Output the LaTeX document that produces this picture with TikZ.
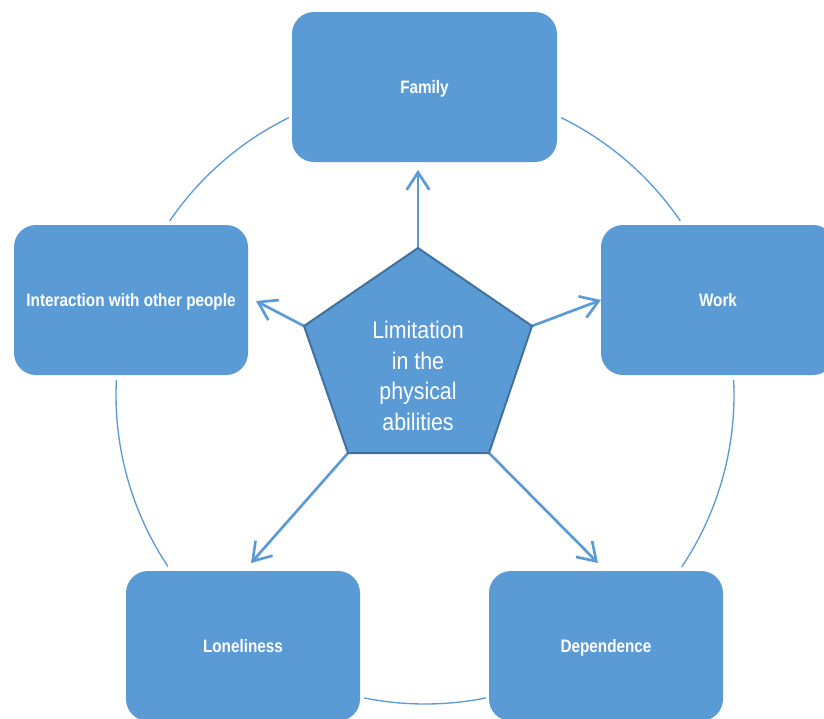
\documentclass[tikz,border=0pt]{standalone}
\usepackage{fontspec}
\setmainfont{Liberation Sans}
\newfontfamily\boxfont[FakeStretch=0.85]{Liberation Sans}
\newfontfamily\hubfont[FakeStretch=0.89]{Liberation Sans}
\usetikzlibrary{arrows.meta}
\definecolor{boxblue}{HTML}{5B9BD5}
\definecolor{edgeblue}{HTML}{41719C}
\begin{document}
\begin{tikzpicture}[x=0.75pt,y=-0.75pt,
  topic/.style={fill=boxblue, rounded corners=16.5pt, minimum width=175.5pt,
    minimum height=112.5pt, inner sep=0pt, text=white,
    text height=9.7pt, text depth=0pt,
    font=\boxfont\bfseries\fontsize{13.5}{16}\selectfont},
  ring/.style={draw=boxblue, line width=1pt},
  arr/.style={draw=boxblue, line width=2pt, -{Straight Barb[length=13pt,width=17pt]}},
  hub/.style={fill=boxblue, draw=edgeblue, line width=1.5pt, line join=miter},
  hubtext/.style={align=center, text=white, inner sep=0pt,
    font=\hubfont\fontsize{18}{23}\selectfont}]
\useasboundingbox (0,0) rectangle (824,718);
\clip (0,0) rectangle (824,718);

% ring of thin arcs linking the outer topics
\coordinate (c) at (425,395);
\draw[ring] (c) ++(116.15:231.75pt) arc[start angle=116.15, end angle=145.7, radius=231.75pt];
\draw[ring] (c) ++(34.3:231.75pt) arc[start angle=34.3, end angle=63.85, radius=231.75pt];
\draw[ring] (c) ++(177.2:231.75pt) arc[start angle=177.2, end angle=213.7, radius=231.75pt];
\draw[ring] (c) ++(-33.8:231.75pt) arc[start angle=-33.8, end angle=2.8, radius=231.75pt];
\draw[ring] (c) ++(258.65:231.75pt) arc[start angle=258.65, end angle=281.4, radius=231.75pt];

% outer topics
\node[topic, minimum width=198.75pt] (fam) at (424.5,87) {Family};
\node[topic] (work) at (718,300) {Work};
\node[topic] (inter) at (131,300) {Interaction with other people};
\node[topic] (lone) at (243,646) {Loneliness};
\node[topic] (dep) at (606,646) {Dependence};

% central pentagon corners
\coordinate (pT) at (418,248);
\coordinate (pR) at (532,326);
\coordinate (pBR) at (489,453);
\coordinate (pBL) at (348,453);
\coordinate (pL) at (304,326);

% arrow tips beside the topics
\coordinate (tF) at (418,170);
\coordinate (tI) at (256,301);
\coordinate (tW) at (601,300);
\coordinate (tL) at (251,563);
\coordinate (tD) at (598,563);

\draw[arr] (pT) -- (tF);
\draw[arr] (pL) -- (tI);
\draw[arr] (pR) -- (tW);
\draw[arr] (pBL) -- (tL);
\draw[arr] (pBR) -- (tD);

\draw[hub] (pT) -- (pR) -- (pBR) -- (pBL) -- (pL) -- cycle;
\node[hubtext] (core) at (418,376) {Limitation\\in the\\physical\\abilities};
\end{tikzpicture}
\end{document}
